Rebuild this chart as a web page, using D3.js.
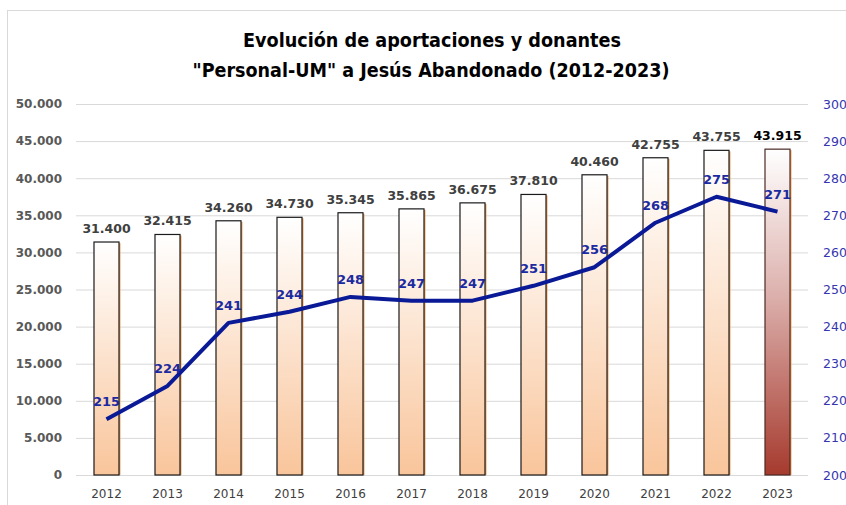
<!DOCTYPE html>
<html>
<head>
<meta charset="utf-8">
<script src="https://cdn.jsdelivr.net/npm/d3@7"></script>
<style>
  body { margin: 0; background: #fff; }
  text { font-family: "DejaVu Sans", Verdana, sans-serif; }
</style>
</head>
<body>
<div id="chart"></div>
<script>
// datos
const years = ["2012","2013","2014","2015","2016","2017","2018","2019","2020","2021","2022","2023"];
const aportaciones = [31400, 32415, 34260, 34730, 35345, 35865, 36675, 37810, 40460, 42755, 43755, 43915];
const donantes = [215, 224, 241, 244, 248, 247, 247, 251, 256, 268, 275, 271];
const leftTicks = [0, 5000, 10000, 15000, 20000, 25000, 30000, 35000, 40000, 45000, 50000];
const rightTicks = [200, 210, 220, 230, 240, 250, 260, 270, 280, 290, 300];

const width = 846, height = 505,
    margin = ({ top: 104, right: 38, bottom: 30, left: 76 });

const svg = d3.select("#chart")
    .append("svg")
    .attr("width", width)
    .attr("height", height);

const defs = svg.append("defs");
const g1 = defs.append("linearGradient").attr("id", "peach").attr("x1", 0).attr("y1", 0).attr("x2", 0).attr("y2", 1);
g1.append("stop").attr("offset", "0%").attr("stop-color", "#ffffff");
g1.append("stop").attr("offset", "100%").attr("stop-color", "#f9c59b");
const g2 = defs.append("linearGradient").attr("id", "red").attr("x1", 0).attr("y1", 0).attr("x2", 0).attr("y2", 1);
g2.append("stop").attr("offset", "0%").attr("stop-color", "#ffffff");
g2.append("stop").attr("offset", "45%").attr("stop-color", "#dcb0ac");
g2.append("stop").attr("offset", "100%").attr("stop-color", "#a63a2e");

// chart border
svg.append("rect")
    .attr("x", 7.5).attr("y", 10.5)
    .attr("width", 860).attr("height", 520)
    .attr("fill", "none")
    .attr("stroke", "#d9d9d9");

// title
svg.append("text")
    .attr("x", 432).attr("y", 47)
    .attr("text-anchor", "middle")
    .attr("font-size", 20).attr("font-weight", "bold")
    .attr("fill", "#000")
    .attr("textLength", 378).attr("lengthAdjust", "spacingAndGlyphs")
    .text("Evolución de aportaciones y donantes");
svg.append("text")
    .attr("x", 431).attr("y", 77)
    .attr("text-anchor", "middle")
    .attr("font-size", 20).attr("font-weight", "bold")
    .attr("fill", "#000")
    .attr("textLength", 477).attr("lengthAdjust", "spacingAndGlyphs")
    .text("\"Personal-UM\" a Jesús Abandonado (2012-2023)");

let x = d3.scaleBand()
    .domain(years)
    .range([margin.left, width - margin.right])
    .paddingInner(0.59)
    .paddingOuter(0.295);

let y = d3.scaleLinear()
    .domain([0, 50000])
    .range([height - margin.bottom, margin.top]);

let y2 = d3.scaleLinear()
    .domain([200, 300])
    .range([height - margin.bottom, margin.top]);

const fmt = d3.formatLocale({ decimal: ",", thousands: ".", grouping: [3], currency: ["", "€"] }).format(",");

// gridlines + left axis
svg.append("g")
    .attr("transform", `translate(${margin.left},0)`)
    .call(d3.axisLeft(y).tickValues(leftTicks).tickSize(-(width - margin.left - margin.right)).tickFormat(d => fmt(d)).tickPadding(14))
    .call(g => g.select(".domain").remove())
    .call(g => g.selectAll("line").attr("stroke", "#d9d9d9"))
    .call(g => g.selectAll("text").attr("font-size", 12).attr("font-weight", "bold").attr("fill", "#595959")
        .attr("font-family", "DejaVu Sans"));

// right axis
svg.append("g")
    .attr("transform", `translate(${width - margin.right},0)`)
    .call(d3.axisRight(y2).tickValues(rightTicks).tickSize(0).tickPadding(15))
    .call(g => g.select(".domain").remove())
    .call(g => g.selectAll("text").attr("font-size", 12.5).attr("fill", "#3535b0")
        .attr("font-family", "DejaVu Sans"));

// x axis
svg.append("g")
    .attr("transform", `translate(0,${height - margin.bottom})`)
    .call(d3.axisBottom(x).tickSize(0).tickPadding(14))
    .call(g => g.select(".domain").remove())
    .call(g => g.selectAll("text").attr("font-size", 12).attr("fill", "#404040")
        .attr("font-family", "DejaVu Sans"));

// bars: orange shadow edge then bar
svg.append("g").selectAll("rect")
    .data(aportaciones)
    .join("rect")
    .attr("x", (d, i) => x(years[i]) + 1.5)
    .attr("y", d => y(d) + 1)
    .attr("width", x.bandwidth())
    .attr("height", d => y(0) - y(d) - 1)
    .attr("fill", "#f4a460");

svg.append("g").selectAll("rect")
    .data(aportaciones)
    .join("rect")
    .attr("x", (d, i) => x(years[i]))
    .attr("y", d => y(d))
    .attr("width", x.bandwidth())
    .attr("height", d => y(0) - y(d))
    .attr("fill", (d, i) => i === years.length - 1 ? "url(#red)" : "url(#peach)")
    .attr("stroke", (d, i) => i === years.length - 1 ? "#4a2a24" : "#1a1a1a")
    .attr("stroke-width", 1.2);

// bar labels
svg.append("g").selectAll("text")
    .data(aportaciones)
    .join("text")
    .attr("x", (d, i) => x(years[i]) + x.bandwidth() / 2)
    .attr("y", d => y(d) - 9)
    .attr("text-anchor", "middle")
    .attr("font-size", 12.5)
    .attr("font-weight", "bold")
    .attr("fill", (d, i) => i === years.length - 1 ? "#000" : "#404040")
    .text(d => fmt(d));

// line donantes
let line = d3.line()
    .x((d, i) => x(years[i]) + x.bandwidth() / 2)
    .y(d => y2(d));

svg.append("path")
    .datum(donantes)
    .attr("d", line)
    .attr("fill", "none")
    .attr("stroke", "#0a1a96")
    .attr("stroke-width", 4)
    .attr("stroke-linejoin", "round");

svg.append("g").selectAll("text")
    .data(donantes)
    .join("text")
    .attr("x", (d, i) => x(years[i]) + x.bandwidth() / 2)
    .attr("y", d => y2(d) - 13)
    .attr("text-anchor", "middle")
    .attr("font-size", 13)
    .attr("font-weight", "bold")
    .attr("fill", "#1c2aa0")
    .text(d => d);
</script>
</body>
</html>
